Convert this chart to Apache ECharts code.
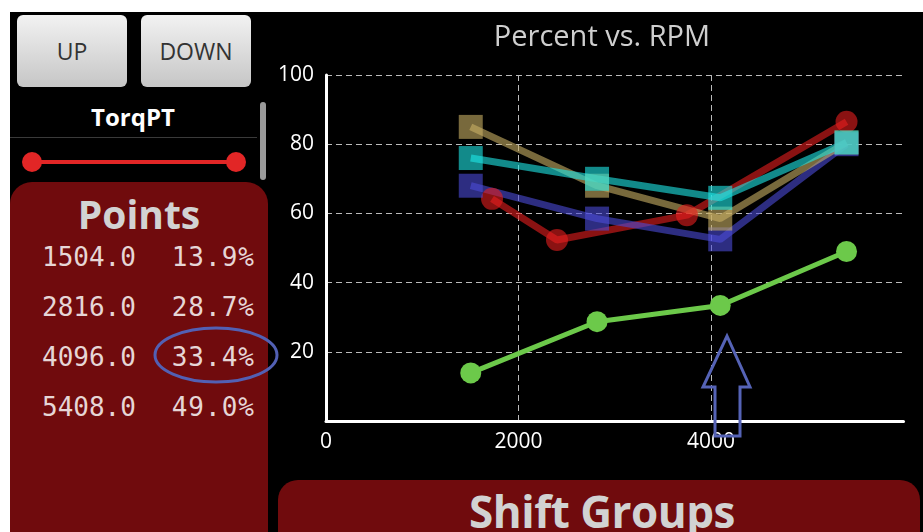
<!DOCTYPE html>
<html>
<head>
<meta charset="utf-8">
<script src="https://cdn.jsdelivr.net/npm/echarts@6/dist/echarts.min.js"></script>
<style>
  body { margin:0; width:923px; height:532px; overflow:hidden; background:#fff; font-family:"Open Sans", sans-serif; }
  #screen { position:absolute; left:10px; top:12px; right:0; bottom:0; background:#000; }
  .btn { position:absolute; top:15px; height:72px; width:110px; border-radius:6px;
         background:linear-gradient(#f2f2f2, #c6c6c6); color:#333; font-size:23px;
         display:flex; align-items:center; justify-content:center; }
  #torq { position:absolute; left:10px; width:246px; top:100px; text-align:center; color:#fff; font-weight:bold; font-size:24px; }
  #sep { position:absolute; left:10px; top:137px; width:247px; height:1px; background:#3a3a3a; }
  #slider { position:absolute; left:32px; top:160px; width:204px; height:4px; background:#e22626; }
  .knob { position:absolute; top:152px; width:20px; height:20px; border-radius:50%; background:#e22626; }
  #scroll { position:absolute; left:260px; top:102px; width:6px; height:78px; border-radius:3px; background:#9a9a9a; }
  #points { position:absolute; left:10px; top:182px; width:258px; height:380px; background:#700b0d; border-radius:22px; }
  .ptitle { position:absolute; left:10px; width:258px; top:189px; text-align:center; color:#d2d2d2; font-weight:bold; font-size:39px; line-height:50px; }
  .row { position:absolute; left:42px; width:213px; font-family:"DejaVu Sans Mono", monospace; font-size:26px; color:#e6d6d6; line-height:30px; }
  .row span { position:absolute; right:0; letter-spacing:1px; }
  #shift { position:absolute; left:278px; top:480px; width:642px; height:90px; background:#700b0d; border-radius:20px; }
  .stitle { position:absolute; left:278px; width:648px; top:483px; text-align:center; color:#d2d2d2; font-weight:bold; font-size:44px; line-height:56px; letter-spacing:-0.5px; }
  #chart { position:absolute; left:0; top:0; width:923px; height:532px; pointer-events:none; }
</style>
</head>
<body>
<div id="screen"></div>
<div class="btn" style="left:17px">UP</div>
<div class="btn" style="left:141px">DOWN</div>
<div id="torq">TorqPT</div>
<div id="sep"></div>
<div id="slider"></div>
<div class="knob" style="left:22px"></div>
<div class="knob" style="left:226px"></div>
<div id="scroll"></div>
<div id="points"></div>
<div class="ptitle">Points</div>
<div id="rows"></div>
<div id="shift"></div>
<div class="stitle">Shift Groups</div>
<div id="chart"></div>
<script>
// selected curve (TorqPT)
var rpm = [1504, 2816, 4096, 5408];
var pct = [13.9, 28.7, 33.4, 49.0];
// other curves, shown faded
var brownPct = [85, 68, 58.5, 80.5];
var cyanPct = [76, 70, 64.5, 80.5];
var bluePct = [68, 58.5, 52.5, 80];
var redRpm = [1725, 2400, 3750, 5408];
var redPct = [64.2, 52.3, 59.5, 86.5];

// points table
var rowTops = [242, 292, 342, 392];
var html = '';
for (var i = 0; i < rpm.length; i++) {
  html += '<div class="row" style="top:' + rowTops[i] + 'px">' + rpm[i].toFixed(1) +
          '<span>' + pct[i].toFixed(1) + '%</span></div>';
}
document.getElementById('rows').innerHTML = html;

function pairs(xs, ys) {
  return xs.map(function (x, i) { return [x, ys[i]]; });
}

function faded(name, color, symbol, xs, ys) {
  return {
    name: name,
    type: 'line',
    data: pairs(xs, ys),
    symbol: symbol,
    symbolSize: symbol == 'rect' ? 24 : 22,
    lineStyle: { color: color, width: 7 },
    itemStyle: { color: color },
    emphasis: { disabled: true },
    animation: false
  };
}

var chart = echarts.init(document.getElementById('chart'));
chart.setOption({
  backgroundColor: 'transparent',
  title: {
    text: 'Percent vs. RPM',
    left: 597,
    textAlign: 'center',
    top: 18,
    textStyle: { color: '#cfcfcf', fontSize: 29, fontWeight: 'normal', fontFamily: 'Open Sans' }
  },
  grid: { left: 326, right: 19.5, top: 75, bottom: 111 },
  xAxis: {
    type: 'value',
    min: 0, max: 6000, interval: 2000,
    axisLine: { lineStyle: { color: '#fff', width: 3 } },
    axisTick: { show: false },
    axisLabel: {
      color: '#fff', fontSize: 21, fontFamily: 'Open Sans', margin: 11, showMaxLabel: false,
      formatter: function (v) { return String(v); }
    },
    splitLine: { show: true, showMinLine: false, showMaxLine: false, lineStyle: { color: '#bbb', type: [6, 4], width: 1 } }
  },
  yAxis: {
    type: 'value',
    min: 0, max: 100, interval: 20,
    axisLine: { show: true, lineStyle: { color: '#fff', width: 3 } },
    axisTick: { show: false },
    axisLabel: { color: '#fff', fontSize: 21, fontFamily: 'Open Sans', margin: 12, showMinLabel: false },
    splitLine: { show: true, showMinLine: false, lineStyle: { color: '#bbb', type: [6, 4], width: 1 } }
  },
  series: [
    faded('red', 'rgba(230,30,30,0.6)', 'circle', redRpm, redPct),
    faded('blue', 'rgba(75,75,215,0.6)', 'rect', rpm, bluePct),
    faded('brown', 'rgba(200,175,100,0.6)', 'rect', rpm, brownPct),
    faded('cyan', 'rgba(30,230,230,0.6)', 'rect', rpm, cyanPct),
    {
      name: 'TorqPT',
      type: 'line',
      data: pairs(rpm, pct),
      symbol: 'circle',
      symbolSize: 21,
      lineStyle: { color: '#6cc94a', width: 5 },
      itemStyle: { color: '#6cc94a' },
      animation: false
    }
  ],
  graphic: [
    {
      type: 'ellipse',
      shape: { cx: 216, cy: 355, rx: 61, ry: 27 },
      style: { fill: 'none', stroke: '#5260b4', lineWidth: 3 },
      z: 100
    },
    {
      type: 'polygon',
      shape: { points: [[727, 336], [750, 387], [740, 387], [740, 436], [715, 436], [715, 387], [703, 387]] },
      style: { fill: 'none', stroke: '#5563b6', lineWidth: 3 },
      z: 100
    }
  ]
});
</script>
</body>
</html>
